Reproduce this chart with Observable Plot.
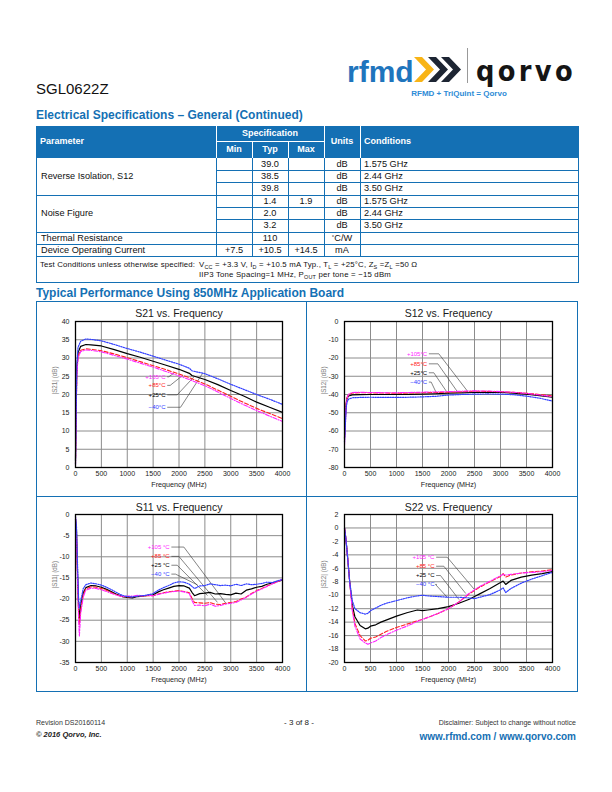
<!DOCTYPE html>
<html><head><meta charset="utf-8">
<script src="https://cdn.jsdelivr.net/npm/d3@7"></script>
<script src="https://cdn.jsdelivr.net/npm/@observablehq/plot@0.6"></script>
<style>
html,body{margin:0;padding:0;background:#fff;}
#page{position:relative;width:612px;height:792px;overflow:hidden;font-family:"Liberation Sans",Arial,Helvetica,sans-serif;color:#111;}
.abs{position:absolute;white-space:nowrap;line-height:1;}
.ln{position:absolute;}
sub{font-size:0.7em;vertical-align:-0.3em;line-height:0;}
.panel{position:absolute;}
.panel svg{overflow:visible;}
</style></head><body><div id="page"></div>
<script>
// ---------------- DATA ----------------
const specParams = ["Reverse Isolation, S12", "Noise Figure", "Thermal Resistance", "Device Operating Current"];
const paramSpan = [3, 3, 1, 1];
const specMin = ["", "", "", "", "", "", "", "+7.5"];
const specTyp = ["39.0", "38.5", "39.8", "1.4", "2.0", "3.2", "110", "+10.5"];
const specMax = ["", "", "", "1.9", "", "", "", "+14.5"];
const specUnits = ["dB", "dB", "dB", "dB", "dB", "dB", "°C/W", "mA"];
const specCond = ["1.575 GHz", "2.44 GHz", "3.50 GHz", "1.575 GHz", "2.44 GHz", "3.50 GHz", "", ""];

const xTicks = [0, 500, 1000, 1500, 2000, 2500, 3000, 3500, 4000];
const tempNames = ["-40", "+25", "+85", "+105"];

// S21
const s21Ticks = [0, 5, 10, 15, 20, 25, 30, 35, 40];
const s21Freq = [0, 10, 25, 50, 100, 200, 300, 500, 750, 1000, 1250, 1500, 1750, 2000, 2200, 2250, 2500, 2750, 3000, 3250, 3500, 3750, 4000];
const s21M40 = [1, 12, 28, 33, 34.6, 35.2, 35.1, 34.7, 33.7, 32.6, 31.6, 30.5, 29.4, 28.3, 27.2, 26.5, 25.7, 24.3, 22.8, 21.4, 20.0, 18.7, 17.3];
const s21P25 = [2, 14, 27, 31.5, 33.2, 33.7, 33.6, 33.3, 32.3, 31.2, 30.2, 29.1, 28.0, 26.9, 25.8, 25.2, 24.1, 22.7, 21.1, 19.6, 17.9, 16.5, 15.1];
const s21P85 = [1, 12, 26, 30.5, 32.1, 32.5, 32.4, 32.0, 31.1, 30.1, 29.0, 27.9, 26.8, 25.6, 24.6, 24.3, 22.9, 21.2, 19.5, 17.8, 16.2, 14.8, 13.4];
const s21P105 = [0.5, 10, 25, 30, 31.8, 32.2, 32.1, 31.7, 30.7, 29.7, 28.6, 27.5, 26.3, 25.1, 24.1, 23.8, 22.4, 20.7, 18.9, 17.2, 15.6, 14.1, 12.6];
const s21LabelY = [16.5, 19.9, 22.5, 24.85];
const s21LabelX = 1740;
const s21ElbowX = [2030, 1965, 1830, 1800];
const s21TipX = [2454, 2280, 2068, 1894];
const s21TipY = [25.75, 24.7, 25.2, 25.75];

// S12
const s12Ticks = [-80, -70, -60, -50, -40, -30, -20, -10, 0];
const s12Freq = [0, 15, 30, 50, 80, 150, 300, 500, 750, 1000, 1250, 1500, 1750, 2000, 2250, 2500, 2750, 3000, 3250, 3500, 3750, 4000];
const s12M40 = [-66, -58, -48, -44, -42.5, -41.8, -41.6, -41.5, -41.6, -41.6, -41.5, -41.3, -41.0, -40.3, -40.0, -39.8, -39.7, -39.8, -40.1, -40.9, -42.0, -43.6];
const s12P25 = [-64, -55, -46, -42, -40.8, -40.2, -40.1, -40.0, -40.0, -40.0, -39.9, -39.8, -39.6, -39.3, -39.1, -38.9, -38.8, -38.9, -39.2, -39.8, -40.6, -41.5];
const s12P85 = [-62, -53, -45, -41.5, -40.0, -39.2, -39.0, -39.1, -39.2, -39.3, -39.2, -39.0, -38.9, -38.7, -38.5, -38.2, -38.3, -38.5, -38.8, -39.3, -40.0, -40.7];
const s12P105 = [-68, -58, -47, -42, -39.8, -38.9, -38.8, -38.9, -39.0, -39.0, -38.9, -38.7, -38.6, -38.4, -38.2, -38.0, -38.1, -38.4, -38.8, -39.4, -40.3, -41.2];
const s12LabelY = [-33.2, -28.1, -23.2, -17.7];
const s12LabelX = 1590;
const s12ElbowX = [1667, 1718, 1795, 1814];
const s12TipX = [1769, 1975, 2167, 2360];
const s12TipY = [-39.3, -38.9, -38.3, -38.0];

// S11
const s11Ticks = [-35, -30, -25, -20, -15, -10, -5, 0];
const s11Freq = [0, 20, 40, 60, 75, 100, 150, 200, 300, 400, 500, 600, 700, 800, 900, 1000, 1100, 1200, 1300, 1400, 1500, 1600, 1700, 1800, 1900, 2000, 2100, 2200, 2250, 2300, 2400, 2500, 2600, 2700, 2800, 2900, 3000, 3100, 3200, 3300, 3400, 3500, 3600, 3700, 3800, 3900, 4000];
const s11M40 = [-0.5, -3, -12, -20, -22, -20.5, -17.5, -16.6, -16.2, -16.4, -16.7, -17.2, -17.8, -18.5, -19.1, -19.4, -19.5, -19.3, -19.2, -19.0, -18.7, -17.9, -17.3, -16.8, -16.2, -15.9, -16.0, -16.5, -17.0, -17.5, -16.9, -16.8, -16.4, -16.6, -16.8, -16.7, -16.9, -16.5, -16.8, -16.4, -16.6, -16.5, -16.3, -16.0, -16.1, -15.7, -15.4];
const s11P25 = [-1, -4, -14, -22, -24.5, -21.5, -18.5, -17.3, -16.8, -16.9, -17.2, -17.7, -18.3, -18.9, -19.4, -19.6, -19.7, -19.4, -19.3, -19.1, -19.0, -18.3, -17.8, -17.4, -17.0, -16.8, -16.9, -17.4, -18.4, -19.2, -18.7, -18.6, -18.4, -18.8, -18.7, -18.9, -19.0, -18.6, -18.8, -17.9, -17.6, -17.2, -17.0, -16.5, -16.2, -15.8, -15.5];
const s11P85 = [-1, -5, -15, -23.5, -26, -22.5, -19, -17.6, -17.1, -17.2, -17.5, -17.9, -18.5, -19.0, -19.4, -19.5, -19.5, -19.3, -19.3, -19.2, -19.2, -18.8, -18.5, -18.3, -18.1, -18.0, -18.2, -18.5, -19.8, -20.8, -20.9, -21.0, -20.8, -21.2, -21.3, -21.0, -20.8, -20.6, -20.0, -19.5, -18.7, -18.0, -17.5, -16.9, -16.4, -15.9, -15.4];
const s11P105 = [-0.5, -5, -16, -25, -28.8, -23.5, -19.5, -17.9, -17.4, -17.5, -17.8, -18.2, -18.7, -19.1, -19.4, -19.3, -19.3, -19.1, -19.2, -19.1, -19.2, -18.9, -18.6, -18.4, -18.2, -18.1, -18.3, -18.7, -20.3, -21.5, -21.4, -21.6, -21.2, -21.7, -21.5, -21.2, -21.0, -20.8, -20.2, -19.6, -18.8, -18.1, -17.6, -17.0, -16.4, -15.9, -15.3];
const s11LabelY = [-14.1, -12.0, -9.9, -7.7];
const s11LabelX = 1820;
const s11ElbowX = [1932, 1965, 1997, 2094];
const s11TipX = [2351, 2545, 2738, 2913];
const s11TipY = [-16.6, -19.1, -20.7, -21.1];

// S22
const s22Ticks = [-20, -18, -16, -14, -12, -10, -8, -6, -4, -2, 0, 2];
const s22Freq = [0, 25, 50, 100, 150, 200, 300, 400, 450, 500, 600, 700, 800, 1000, 1200, 1400, 1500, 1600, 1800, 2000, 2200, 2400, 2500, 2600, 2800, 3000, 3050, 3100, 3200, 3400, 3600, 3800, 4000];
const s22M40 = [0, -1.5, -3.5, -8, -10.8, -12, -12.6, -12.8, -12.7, -12.3, -11.9, -11.5, -11.2, -10.8, -10.4, -10.1, -10.0, -10.1, -10.2, -10.3, -10.3, -10.4, -10.5, -10.3, -9.9, -9.2, -8.9, -9.6, -9.0, -8.2, -7.6, -7.1, -6.6];
const s22P25 = [0, -1.5, -3.5, -8, -11.5, -13.2, -14.5, -15.0, -14.9, -14.6, -14.4, -14.0, -13.7, -13.1, -12.6, -12.2, -12.3, -12.2, -12.0, -11.7, -11.2, -10.6, -10.2, -9.8, -9.0, -8.1, -7.9, -8.4, -7.8, -7.3, -7.0, -6.8, -6.5];
const s22P85 = [0, -1.5, -3.5, -8, -12, -14.2, -16.0, -16.8, -16.7, -16.4, -16.2, -15.8, -15.4, -14.8, -14.3, -13.8, -13.6, -13.3, -12.7, -12.0, -11.0, -9.8, -9.3, -8.8, -8.0, -7.2, -6.8, -7.3, -7.0, -6.7, -6.5, -6.4, -6.2];
const s22P105 = [0, -1.5, -3.5, -8, -12.3, -14.6, -16.5, -17.1, -17.3, -17.1, -16.8, -16.3, -15.9, -15.2, -14.6, -13.9, -13.6, -13.3, -12.7, -12.0, -11.0, -9.7, -9.2, -8.7, -7.9, -7.1, -6.9, -7.0, -6.9, -6.7, -6.6, -6.5, -6.3];
const s22LabelY = [-8.4, -7.07, -5.69, -4.35];
const s22LabelX = 1730;
const s22ElbowX = [1750, 1846, 1910, 1975];
const s22TipX = [1975, 2198, 2327, 2487];
const s22TipY = [-10.3, -10.6, -9.7, -9.05];

// ---------------- STYLE ----------------
const BLUE = "#1470b4";
const seriesColor = ["#3340ff", "#000000", "#ff2020", "#ff22ff"];
const seriesDash = ["1.3,1.2", null, "4,2", "4,1.5,1,1.5"];
const seriesWidth = [1.2, 1.2, 1.1, 1.1];
const FONT = '"Liberation Sans", Arial, Helvetica, sans-serif';

const page = document.getElementById("page");
function txt(html, x, y, fs, opts = {}) {
  const d = document.createElement("div");
  d.className = "abs";
  d.innerHTML = html;
  d.style.fontSize = fs + "px";
  d.style.top = (y - fs * 0.5) + "px";
  if (opts.align === "right") d.style.right = (612 - x) + "px";
  else if (opts.align === "center") { d.style.left = x + "px"; d.style.transform = "translateX(-50%)"; }
  else d.style.left = x + "px";
  if (opts.bold) d.style.fontWeight = "bold";
  if (opts.italic) d.style.fontStyle = "italic";
  if (opts.color) d.style.color = opts.color;
  if (opts.css) Object.assign(d.style, opts.css);
  page.appendChild(d);
  return d;
}
function rect(x, y, w, h, color) {
  const d = document.createElement("div");
  d.className = "ln";
  Object.assign(d.style, {left: x + "px", top: y + "px", width: w + "px", height: h + "px", background: color});
  page.appendChild(d);
  return d;
}

// ---------------- HEADER ----------------
txt("rfmd", 347, 0, 30, {bold: true, color: "#1f75bd", css: {top: "56.5px"}});
const chev = document.createElementNS("http://www.w3.org/2000/svg", "svg");
chev.setAttribute("width", 48); chev.setAttribute("height", 28);
chev.style.position = "absolute"; chev.style.left = "414px"; chev.style.top = "57px";
[[0, "#f8b416"], [14, "#1d2533"], [27, "#1d2533"]].forEach(([x0, c]) => {
  const p = document.createElementNS("http://www.w3.org/2000/svg", "polygon");
  const w = 20, h = 25, t = 8;
  p.setAttribute("points", `${x0},0 ${x0 + t},0 ${x0 + w},${h / 2} ${x0 + t},${h} ${x0},${h} ${x0 + w - t},${h / 2}`);
  p.setAttribute("fill", c);
  chev.appendChild(p);
});
page.appendChild(chev);
rect(467, 48, 1, 35, "#999");
txt("qorvo", 476, 0, 28, {bold: true, color: "#151515", css: {top: "58px", letterSpacing: "3.6px", fontFamily: '"DejaVu Sans", sans-serif', transform: "scaleX(0.92)", transformOrigin: "left"}});
txt("RFMD + TriQuint = Qorvo", 459, 93.5, 8, {bold: true, color: "#2d8bd6", align: "center"});

txt("SGL0622Z", 36, 88, 15, {color: "#111"});
txt("Electrical Specifications – General (Continued)", 36, 114.5, 12, {bold: true, color: BLUE});

// ---------------- TABLE ----------------
const colX = [36, 216, 252, 288, 324, 360, 579];
const rowY = [158, 170, 182.5, 195, 207, 219.5, 232, 244, 256];
rect(36, 126, 543, 32, BLUE);
[216, 324, 360].forEach(x => rect(x - 0.5, 126, 1, 32, "#fff"));
[252, 288].forEach(x => rect(x - 0.5, 141, 1, 17, "#fff"));
rect(216, 141, 108, 1, "#fff");
txt("Parameter", 40, 141, 9, {bold: true, color: "#fff"});
txt("Specification", 270, 133, 9, {bold: true, color: "#fff", align: "center"});
["Min", "Typ", "Max"].forEach((s, i) => txt(s, 234 + 36 * i, 149.5, 9, {bold: true, color: "#fff", align: "center"}));
txt("Units", 342, 141, 9, {bold: true, color: "#fff", align: "center"});
txt("Conditions", 364, 141, 9, {bold: true, color: "#fff"});
rect(35.5, 126, 1.5, 157, BLUE);
rect(578, 126, 1.3, 157, BLUE);
colX.slice(1, 6).forEach(x => rect(x - 0.5, 158, 1, 98, BLUE));
rowY.slice(1).forEach(y => rect(216, y - 0.5, 363, 1, BLUE));
let acc = 0;
specParams.forEach((p, i) => {
  const y0 = rowY[acc], y1 = rowY[acc + paramSpan[i]];
  acc += paramSpan[i];
  rect(36, y1 - 0.5, 180, 1, BLUE);
  txt(p, 41, (y0 + y1) / 2 + 0.5, 9.2);
});
specTyp.forEach((v, i) => {
  const yc = (rowY[i] + rowY[i + 1]) / 2 + 0.3;
  if (specMin[i]) txt(specMin[i], 234, yc, 9.2, {align: "center"});
  txt(v, 270, yc, 9.2, {align: "center"});
  if (specMax[i]) txt(specMax[i], 306, yc, 9.2, {align: "center"});
  txt(specUnits[i] === "°C/W" ? "<span style='font-size:6px;vertical-align:2px'>°</span>C/W" : specUnits[i], 342, yc, 9.2, {align: "center"});
  if (specCond[i]) txt(specCond[i], 364, yc, 9.2);
});
rect(36, 282, 543, 1.2, BLUE);
txt("Test Conditions unless otherwise specified:", 40, 264.8, 7.8, {css: {letterSpacing: "0.15px"}});
txt("V<sub>CC</sub> = +3.3 V, I<sub>D</sub> = +10.5 mA Typ., T<sub>L</sub> = +25°C, Z<sub>S</sub> =Z<sub>L</sub> =50 Ω", 199, 264.8, 7.8, {css: {letterSpacing: "0.2px"}});
txt("IIP3 Tone Spacing=1 MHz, P<sub>OUT</sub> per tone = −15 dBm", 199, 274.8, 7.8, {css: {letterSpacing: "0.2px"}});

// ---------------- CHARTS ----------------
txt("Typical Performance Using 850MHz Application Board", 36, 292.5, 12, {bold: true, color: BLUE});
rect(36, 301, 542, 1.3, BLUE);
rect(36, 691, 542, 1.3, BLUE);
rect(36, 301, 1.3, 391, BLUE);
rect(577, 301, 1.3, 391, BLUE);
rect(305.5, 301, 1.3, 391, BLUE);
rect(36, 495.5, 542, 1.3, BLUE);

function panel(cfg) {
  const rows = [];
  cfg.values.forEach((vals, si) => vals.forEach((v, k) => rows.push({f: cfg.freq[k], v, s: si})));
  const lead = [];
  tempNames.forEach((n, i) => {
    lead.push({f: cfg.labelX + 40, v: cfg.labelY[i], s: i});
    lead.push({f: cfg.elbowX[i], v: cfg.labelY[i], s: i});
    lead.push({f: cfg.tipX[i], v: cfg.tipY[i], s: i});
  });
  const labs = tempNames.map((n, i) => ({f: cfg.labelX, v: cfg.labelY[i], t: n.replace("-", "−") + cfg.deg, s: i}));
  const fmt = d => String(d);
  const marks = [
    Plot.gridX(xTicks, {stroke: "#8c8c8c", strokeOpacity: 1, strokeWidth: 1}),
    Plot.gridY(cfg.yTicks, {stroke: "#8c8c8c", strokeOpacity: 1, strokeWidth: 1}),
    Plot.axisX(xTicks, {tickSize: 0, tickPadding: 4, tickFormat: fmt, label: null, fill: "#222"}),
    Plot.axisY(cfg.yTicks, {tickSize: 0, tickPadding: 6, tickFormat: fmt, label: null, fill: "#222"}),
    Plot.line(lead, {x: "f", y: "v", z: "s", stroke: "#333", strokeWidth: 0.6}),
    Plot.text(labs, {x: "f", y: "v", text: "t", fill: d => seriesColor[d.s], textAnchor: "end", fontSize: 6}),
  ];
  [1, 2, 3, 0].forEach(si => {
    marks.push(Plot.line(rows.filter(r => r.s === si), {x: "f", y: "v", stroke: seriesColor[si], strokeWidth: seriesWidth[si], strokeDasharray: seriesDash[si]}));
  });
  marks.push(Plot.frame({stroke: "#000", strokeWidth: 1.3}));
  marks.push(Plot.text([cfg.title], {frameAnchor: "top", lineAnchor: "middle", dy: cfg.titleDy, fontSize: 10.5, fill: "#1a1a1a"}));
  marks.push(Plot.text(["Frequency (MHz)"], {frameAnchor: "bottom", lineAnchor: "middle", dy: 17.5, fontSize: 7.2, fill: "#222"}));
  marks.push(Plot.text([cfg.ylabel], {frameAnchor: "left", lineAnchor: "middle", dx: -21, rotate: -90, fontSize: 6.3, fill: "#808080"}));
  const svg = Plot.plot({
    width: cfg.w, height: cfg.h,
    marginLeft: cfg.ml, marginRight: cfg.mr, marginTop: cfg.mt, marginBottom: cfg.mb,
    x: {domain: [0, 4000]},
    y: {domain: cfg.yDomain},
    style: {fontFamily: FONT, fontSize: "7px", background: "transparent", overflow: "visible"},
    marks
  });
  const wrap = document.createElement("div");
  wrap.className = "panel";
  wrap.style.left = cfg.left + "px";
  wrap.style.top = cfg.top + "px";
  wrap.appendChild(svg);
  page.appendChild(wrap);
}

panel({title: "S21 vs. Frequency", ylabel: "|S21| (dB)", left: 36, top: 301, w: 270, h: 195, ml: 39, mr: 24, mt: 20, mb: 29, titleDy: -8,
  yDomain: [0, 40], yTicks: s21Ticks, freq: s21Freq, values: [s21M40, s21P25, s21P85, s21P105],
  labelX: s21LabelX, labelY: s21LabelY, elbowX: s21ElbowX, tipX: s21TipX, tipY: s21TipY, deg: "°C"});
panel({title: "S12 vs. Frequency", ylabel: "|S12| (dB)", left: 306, top: 301, w: 272, h: 195, ml: 38, mr: 26, mt: 20, mb: 29, titleDy: -7.7,
  yDomain: [-80, 0], yTicks: s12Ticks, freq: s12Freq, values: [s12M40, s12P25, s12P85, s12P105],
  labelX: s12LabelX, labelY: s12LabelY, elbowX: s12ElbowX, tipX: s12TipX, tipY: s12TipY, deg: "°C"});
panel({title: "S11 vs. Frequency", ylabel: "|S11| (dB)", left: 36, top: 496, w: 270, h: 196, ml: 39, mr: 24, mt: 18, mb: 30, titleDy: -6.5,
  yDomain: [-35, 0], yTicks: s11Ticks, freq: s11Freq, values: [s11M40, s11P25, s11P85, s11P105],
  labelX: s11LabelX, labelY: s11LabelY, elbowX: s11ElbowX, tipX: s11TipX, tipY: s11TipY, deg: " °C"});
panel({title: "S22 vs. Frequency", ylabel: "|S22| (dB)", left: 306, top: 496, w: 272, h: 196, ml: 38, mr: 26, mt: 18, mb: 30, titleDy: -6.5,
  yDomain: [-20, 2], yTicks: s22Ticks, freq: s22Freq, values: [s22M40, s22P25, s22P85, s22P105],
  labelX: s22LabelX, labelY: s22LabelY, elbowX: s22ElbowX, tipX: s22TipX, tipY: s22TipY, deg: " °C"});

// ---------------- FOOTER ----------------
txt("Revision DS20160114", 36, 722.5, 7, {color: "#333"});
txt("© 2016 Qorvo, Inc.", 36, 734.5, 7.5, {bold: true, italic: true, color: "#222"});
txt("- 3 of 8 -", 299, 722.5, 8, {align: "center", color: "#222"});
txt("Disclaimer: Subject to change without notice", 576, 722.5, 7, {align: "right", color: "#333"});
txt("www.rfmd.com / www.qorvo.com", 576, 736.5, 10, {align: "right", bold: true, color: BLUE});
</script></body></html>
